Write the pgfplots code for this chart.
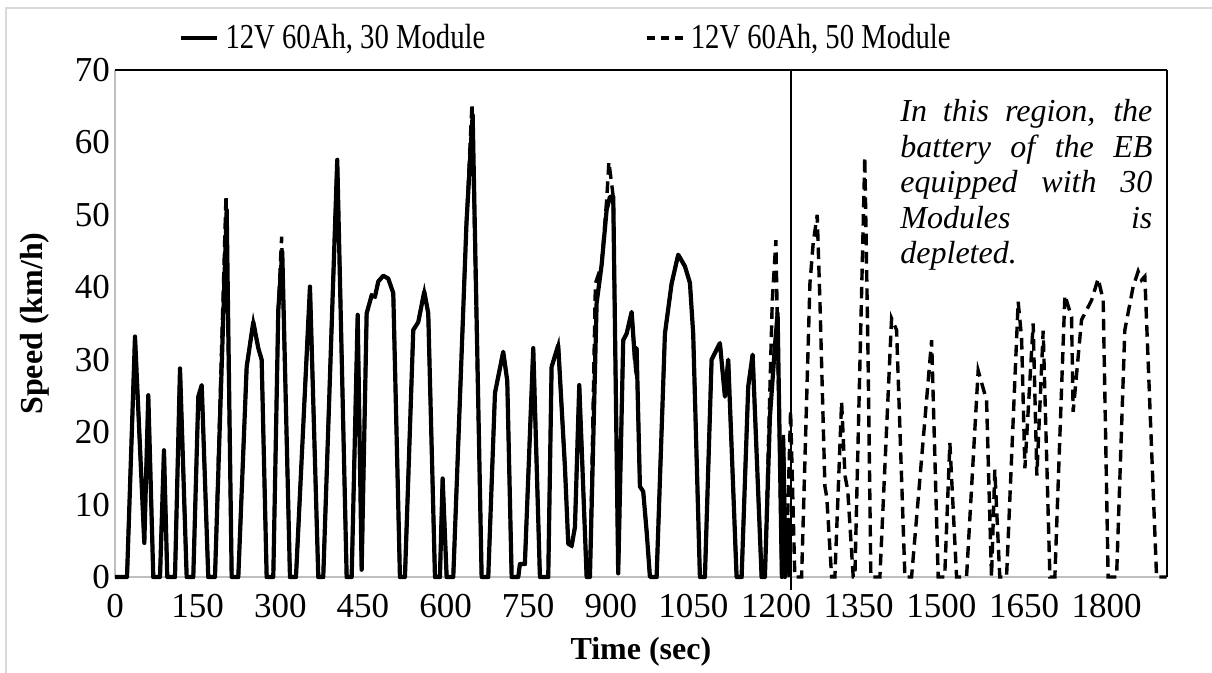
\documentclass[border=0pt]{standalone}
\usepackage{pgfplots}
\usepackage{pgfplotstable}
\pgfplotsset{compat=1.18}
\usepackage{fontspec}
\setmainfont{Liberation Serif}
\newfontfamily\legendfont{Liberation Serif}[FakeStretch=0.82]

% Speed trace of the bus with 30 battery modules (ends when the pack is depleted)
\pgfplotstableread{
t v
0 0
21.8 0
36.3 33.2
53.2 4.7
60.4 25.1
69.5 0
81.7 0
88.9 17.5
94.9 0
108.9 0
118.0 28.8
130.1 0
142.1 0
151.2 24.9
157.4 26.5
169.3 0
181.5 0
202.7 50.7
211.8 0
223.8 0
239.0 29.0
251.0 35.2
260.1 31.6
266.2 30.0
275.3 0
287.3 0
296.4 36.9
303.6 44.9
317.6 0
328.5 0
353.9 40.1
369.0 0
378.0 0
403.4 57.6
420.5 0
429.6 0
440.5 36.2
447.7 1.0
456.8 36.4
465.9 38.9
471.9 38.7
477.9 40.8
486.9 41.6
496.0 41.2
505.1 39.2
517.2 0
526.3 0
541.4 34.1
550.5 35.2
561.4 39.4
568.6 36.4
580.8 0
589.8 0
594.7 13.6
602.0 0
614.0 0
626.0 24.4
638.0 48.9
649.2 63.8
665.5 0
677.5 0
689.7 25.4
704.7 31.1
712.0 27.1
720.0 0
732.0 0
735.0 1.8
744.0 1.8
759.2 31.6
771.3 0
786.4 0
792.5 29.0
804.5 32.0
816.7 15.2
822.7 4.6
828.9 4.3
834.9 6.9
842.7 26.5
856.1 0
862.1 0
874.2 37.8
883.3 43.1
892.4 50.7
898.4 52.5
904.4 52.5
913.4 0.5
922.5 32.7
928.7 33.6
937.8 36.6
943.7 30.0
946.8 31.6
952.8 12.5
958.8 11.8
965.0 6.3
971.0 0
983.1 0
998.2 33.6
1010.3 40.5
1022.3 44.5
1034.5 42.9
1043.6 40.6
1049.5 33.6
1061.7 0
1070.8 0
1082.9 30.0
1098.0 32.3
1107.1 24.9
1113.1 30.0
1128.3 0
1137.4 0
1149.4 26.3
1157.4 30.7
1173.7 0
1179.7 0
1188.8 22.1
1197.8 31.8
1202.7 36.4
1210.5 0
1213.4 17.8
1216.0 0
1222.0 7.9
1225.0 0
}\thirtymod

% Speed trace of the bus with 50 battery modules (completes the whole cycle)
\pgfplotstableread{
t v
0 0
21.8 0
36.3 33.2
53.2 4.7
60.4 25.1
69.5 0
81.7 0
88.9 17.5
94.9 0
108.9 0
118.0 28.8
130.1 0
142.1 0
151.2 24.9
157.4 26.5
169.3 0
181.5 0
201.5 52.7
211.8 0
223.8 0
239.0 29.0
251.0 35.2
260.1 31.6
266.2 30.0
275.3 0
287.3 0
296.4 36.9
302.5 47.0
317.6 0
328.5 0
353.9 40.1
369.0 0
378.0 0
403.4 57.6
420.5 0
429.6 0
440.5 36.2
447.7 1.0
456.8 36.4
465.9 38.9
471.9 38.7
477.9 40.8
486.9 41.6
496.0 41.2
505.1 39.2
517.2 0
526.3 0
541.4 34.1
550.5 35.2
561.4 39.4
568.6 36.4
580.8 0
589.8 0
594.7 13.6
602.0 0
614.0 0
626.0 24.4
638.0 48.9
648.0 65.4
665.5 0
677.5 0
689.7 25.4
704.7 31.1
712.0 27.1
720.0 0
732.0 0
735.0 1.8
744.0 1.8
759.2 31.6
771.3 0
786.4 0
792.5 29.0
804.5 32.0
816.7 15.2
822.7 4.6
828.9 4.3
834.9 6.9
842.7 26.5
856.1 0
862.1 0
872.0 40.5
883.3 43.1
892.4 52.0
896.5 57.3
904.4 52.5
913.4 0.5
922.5 32.7
928.7 33.6
937.8 36.6
943.7 30.0
946.8 31.6
952.8 12.5
958.8 11.8
965.0 6.3
971.0 0
983.1 0
998.2 33.6
1010.3 40.5
1022.3 44.5
1034.5 42.9
1043.6 40.6
1049.5 33.6
1061.7 0
1070.8 0
1082.9 30.0
1098.0 32.3
1107.1 24.9
1113.1 30.0
1128.3 0
1137.4 0
1149.4 26.3
1157.4 30.7
1173.7 0
1179.7 0
1193.0 38.0
1199.6 46.5
1210.5 0
1213.4 19.8
1218.0 0
1226.3 23.0
1234.0 0
1246.3 0
1261.4 40.5
1267.3 46.1
1274.6 50.0
1279.5 38.2
1288.6 12.5
1292.0 11.0
1300.8 0
1306.7 0
1318.9 24.2
1325.0 14.0
1330.0 12.0
1340.0 0
1343.0 0
1361.0 58.0
1367.0 30.0
1372.0 0
1388.4 0
1409.6 35.7
1418.7 34.1
1433.8 0
1445.9 0
1482.3 32.7
1494.2 0
1506.0 0
1515.4 18.5
1527.6 0
1545.7 0
1566.8 28.5
1582.0 24.4
1591.0 0
1597.0 14.8
1606.0 0
1618.3 0
1639.4 38.0
1645.6 33.0
1651.6 15.0
1666.6 35.0
1673.3 14.0
1684.8 34.0
1697.0 0
1706.0 0
1724.2 38.9
1736.3 35.9
1739.2 22.8
1754.4 35.5
1772.6 38.2
1784.6 41.2
1793.7 38.2
1802.7 0
1818.0 0
1833.0 34.1
1848.1 40.1
1857.2 42.2
1863.3 41.0
1869.3 41.5
1890.6 0
1909 0
}\fiftymod

\definecolor{axisgray}{HTML}{BFBFBF}
\definecolor{framegray}{HTML}{D9D9D9}

\begin{document}
\begin{tikzpicture}
\useasboundingbox (0,0) rectangle (606pt,-336.5pt);
% chart area frame
\draw[framegray, line width=1pt] (3pt,-340pt) -- (3pt,-4pt) -- (610pt,-4pt);

\begin{axis}[
  at={(57.5pt,-288.5pt)}, anchor=south west,
  scale only axis,
  width=525.85pt, height=253.5pt,
  xmin=0, xmax=1909, ymin=0, ymax=70,
  xtick={0,150,...,1800}, ytick={0,10,...,70},
  major tick length=0pt,
  axis line style={draw=none},
  clip=false,
  tick label style={font=\fontsize{17.5pt}{20pt}\selectfont},
  /pgf/number format/assume math mode=true,
  /pgf/number format/1000 sep={},
  xticklabel style={yshift=-5pt},
  yticklabel style={xshift=1pt},
  xlabel={\textbf{Time (sec)}},
  ylabel={\textbf{Speed (km/h)}},
  label style={font=\fontsize{16pt}{19pt}\selectfont},
  xlabel style={at={(axis description cs:0.5,-0.148)}, anchor=center},
  ylabel style={at={(axis description cs:-0.0761,0.5)}, anchor=center},
  legend columns=2,
  legend style={at={(axis description cs:0.4298,1.063)}, anchor=center,
    draw=none, fill=none, font=\legendfont\fontsize{17.5pt}{20pt}\selectfont,
    /tikz/every even column/.append style={column sep=78pt},
    /tikz/every odd column/.append style={column sep=1pt}},
  legend image code/.code={\draw[#1] (0pt,0pt) -- (18pt,0pt);},
]
% plot frame: grey left/bottom, black top/right
\draw[axisgray, line width=0.9pt] (rel axis cs:0,1) -- (rel axis cs:0,0) -- (rel axis cs:1,0);

\addplot[black, line width=1.7pt, dash pattern=on 5.8pt off 3.3pt, forget plot] table[x=t, y=v] {\fiftymod};
\addplot[black, line width=2.1pt, line join=round] table[x=t, y=v] {\thirtymod};
\addlegendentry{12V 60Ah, 30 Module}
\addlegendimage{black, line width=1.7pt, dash pattern=on 4pt off 3pt}
\addlegendentry{12V 60Ah, 50 Module}

% depletion marker of the 30-module pack
\addplot[black, line width=0.65pt, forget plot] coordinates {(1227,-1.8) (1227,70)};

\draw[black, line width=1.4pt] (rel axis cs:0,1) -- (rel axis cs:1,1);
\draw[black, line width=1pt] (rel axis cs:1,1) -- (rel axis cs:1,0);
\end{axis}

\node[anchor=base west, inner sep=0pt] at (450pt,-60.8pt) {\parbox[t]{126pt}{%
  \fontsize{16pt}{17.8pt}\selectfont\itshape
  \makebox[126pt][s]{In this region, the}\\
  \makebox[126pt][s]{battery of the EB}\\
  \makebox[126pt][s]{equipped with 30}\\
  \makebox[126pt][s]{Modules is}\\
  depleted.}};
\end{tikzpicture}
\end{document}
